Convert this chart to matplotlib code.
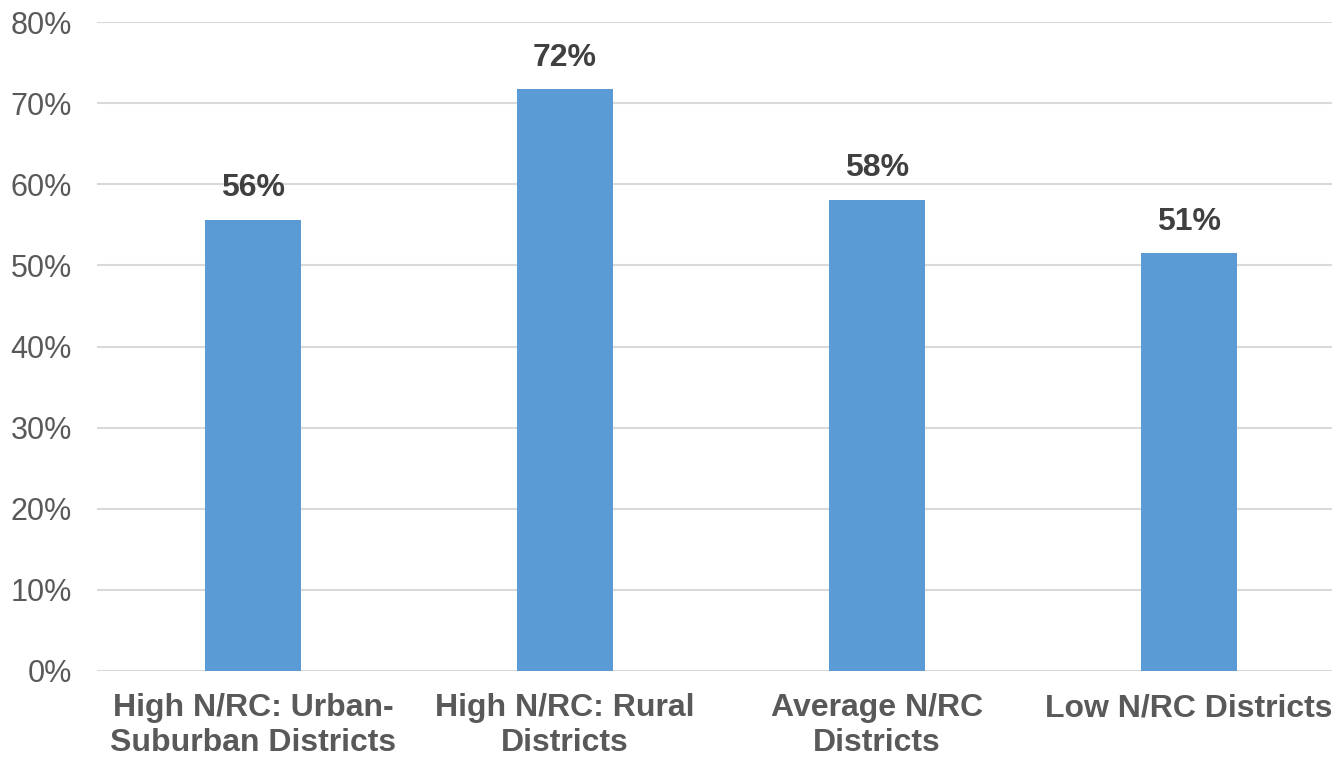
import matplotlib.pyplot as plt
import numpy as np

categories = ['High N/RC: Urban-\nSuburban Districts', 'High N/RC: Rural\nDistricts',
              'Average N/RC\nDistricts', 'Low N/RC Districts']
values = [55.6, 71.7, 58.1, 51.5]
labels = ['56%', '72%', '58%', '51%']
yticks = [0, 10, 20, 30, 40, 50, 60, 70, 80]

plt.rcParams['font.family'] = ['Liberation Sans', 'DejaVu Sans']

fig = plt.figure(figsize=(13.32, 7.58), dpi=100)
ax = fig.add_axes([97/1332, 87/758, (1332-97)/1332, (671-22)/758])

x = np.arange(len(categories))
ax.bar(x, values, width=0.31, color='#5B9BD5', zorder=3)
for xi, v, lab in zip(x, values, labels):
    ax.annotate(lab, (xi, v), xytext=(0, 12), textcoords='offset points',
                ha='center', va='bottom', fontsize=23, fontweight='bold', color='#404040')

ax.set_xlim(-0.5, (1332-253)/312)
ax.set_ylim(0, 80)
ax.set_yticks(yticks)
ax.set_yticklabels(['{}%'.format(t) for t in yticks], fontsize=22, color='#595959')
ax.set_xticks(x)
ax.set_xticklabels(categories, fontsize=23, fontweight='bold', color='#595959', linespacing=1.22)
ax.tick_params(axis='both', length=0)
ax.tick_params(axis='x', pad=16)
ax.tick_params(axis='y', pad=18)
ax.grid(axis='y', color='#D9D9D9', linewidth=1.5, zorder=0)
for s in ax.spines.values():
    s.set_visible(False)

fig.savefig('out.png', dpi=100)
